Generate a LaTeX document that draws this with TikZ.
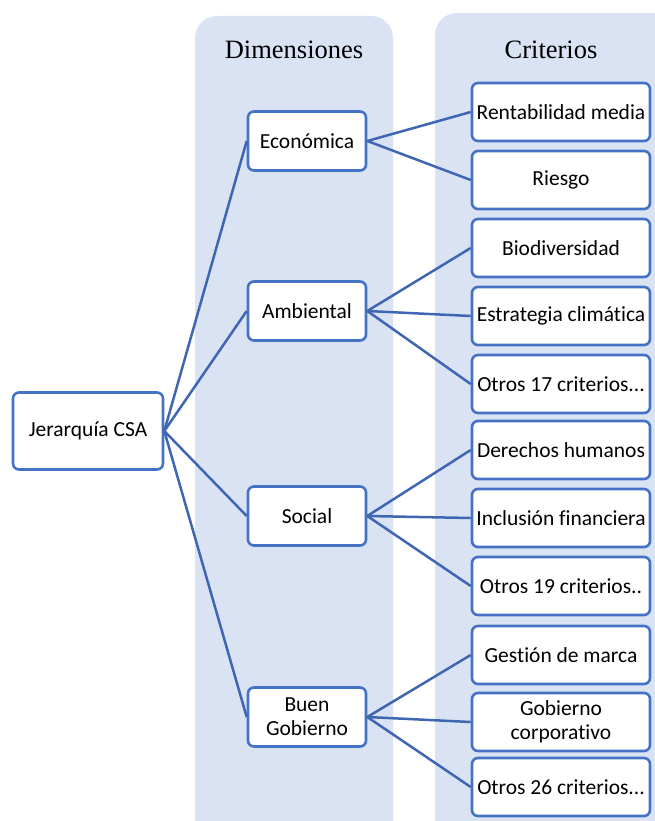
\documentclass[tikz,border=0pt]{standalone}
\usepackage{fontspec}
\setmainfont{Carlito}[Ligatures=NoCommon]
\newfontfamily\titlefont{Liberation Serif}
\definecolor{panelbg}{HTML}{DAE3F3}
\definecolor{edgeblue}{HTML}{4472C4}
\definecolor{linkblue}{HTML}{3F66B3}
\begin{document}
\begin{tikzpicture}[x=1pt,y=-1pt,
  box/.style={draw=edgeblue, line width=2.6pt, rounded corners=6pt, fill=white,
    inner sep=0pt, align=center, font=\fontsize{21.5}{24}\selectfont},
  dimbox/.style={box, minimum width=118pt, minimum height=59pt},
  critbox/.style={box, minimum width=178pt, minimum height=58pt},
  rootbox/.style={box, minimum width=150pt, minimum height=77pt},
  panel/.style={fill=panelbg, rounded corners=22pt},
  title/.style={font=\titlefont\fontsize{26.5}{30}\selectfont, inner sep=0pt},
  link/.style={draw=linkblue, line width=2.5pt}]
\useasboundingbox (0,0) rectangle (654,821);

% column backgrounds
\fill[panel] (195,16) rectangle (393,860);
\fill[panel] (435,13) rectangle (690,860);
\node[title] (tdim) at (294,50) {Dimensiones};
\node[title] (tcrit) at (551,50) {Criterios};

% root
\node[rootbox] (root) at (88,431) {Jerarquía CSA};

% dimensions
\node[dimbox] (eco) at (307,141) {Económica};
\node[dimbox] (amb) at (307,311) {Ambiental};
\node[dimbox] (soc) at (307,516) {Social};
\node[dimbox] (gob) at (307,717) {Buen\\Gobierno};

% criteria
\node[critbox] (c1) at (561,112) {Rentabilidad media};
\node[critbox] (c2) at (561,180) {Riesgo};
\node[critbox] (c3) at (561,248) {Biodiversidad};
\node[critbox] (c4) at (561,316) {Estrategia climática};
\node[critbox] (c5) at (561,384) {Otros 17 criterios...};
\node[critbox] (c6) at (561,450) {Derechos humanos};
\node[critbox] (c7) at (561,518) {Inclusión financiera};
\node[critbox] (c8) at (561,586) {Otros 19 criterios..};
\node[critbox] (c9) at (561,655) {Gestión de marca};
\node[critbox] (c10) at (561,722) {Gobierno\\corporativo};
\node[critbox] (c11) at (561,787) {Otros 26 criterios...};

% connectors
\foreach \d in {eco,amb,soc,gob}
  \draw[link] (root.east) -- (\d.west);
\foreach \c in {c1,c2}
  \draw[link] (eco.east) -- (\c.west);
\foreach \c in {c3,c4,c5}
  \draw[link] (amb.east) -- (\c.west);
\foreach \c in {c6,c7,c8}
  \draw[link] (soc.east) -- (\c.west);
\foreach \c in {c9,c10,c11}
  \draw[link] (gob.east) -- (\c.west);
\end{tikzpicture}
\end{document}
